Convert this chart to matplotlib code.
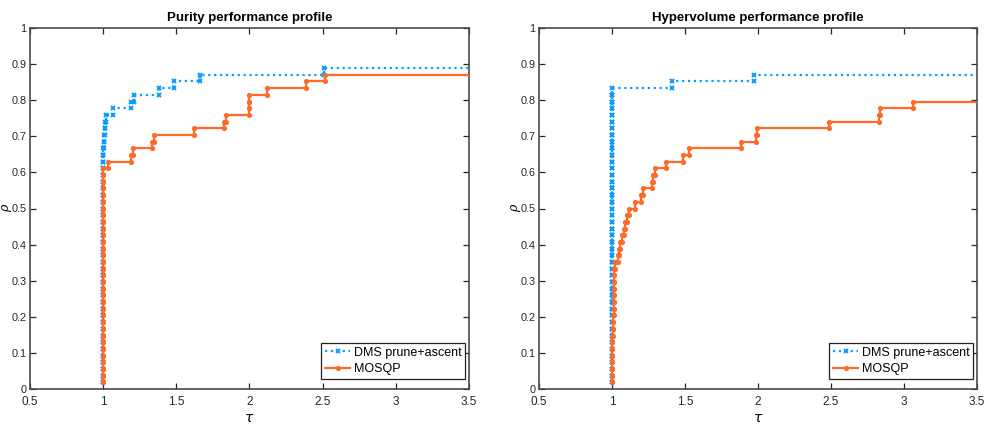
import numpy as np
import matplotlib
matplotlib.use("Agg")
import matplotlib.pyplot as plt

N_PROBLEMS = 54

# ---- Purity profile: tau values where each extra problem is solved (value, count)
pur_dms_tau = [1.0, 1.007, 1.010, 1.015, 1.020, 1.064, 1.190, 1.208, 1.379, 1.486, 1.660, 2.509]
pur_dms_cnt = [36, 2, 1, 1, 1, 1, 1, 1, 1, 1, 1, 1]
pur_mosqp_tau = [1.0, 1.036, 1.188, 1.203, 1.333, 1.349, 1.619, 1.829, 1.842, 1.995, 2.0, 2.121, 2.384, 2.516]
pur_mosqp_cnt = [33, 1, 1, 1, 1, 1, 1, 1, 1, 1, 2, 1, 1, 1]

# ---- Hypervolume profile
hv_dms_tau = [1.0, 1.409, 1.975]
hv_dms_cnt = [45, 1, 1]
hv_mosqp_tau = [1.0, 1.002, 1.007, 1.012, 1.021, 1.038, 1.048, 1.058, 1.068, 1.079, 1.089,
                1.103, 1.116, 1.158, 1.199, 1.212, 1.274, 1.281, 1.295, 1.370, 1.486,
                1.530, 1.884, 1.986, 1.993, 2.488, 2.832, 2.839, 3.059]
hv_mosqp_cnt = [6, 2, 3, 7, 1, 1, 1, 1, 1, 1, 1,
                1, 1, 1, 1, 1, 1, 1, 1, 1, 1,
                1, 1, 1, 1, 1, 1, 1, 1]

titles = ["Purity performance profile", "Hypervolume performance profile"]
labels = ["DMS prune+ascent", "MOSQP"]
x_ticks = [0.5, 1, 1.5, 2, 2.5, 3, 3.5]
x_ticklabels = ["0.5", "1", "1.5", "2", "2.5", "3", "3.5"]
y_ticks = [0, 0.1, 0.2, 0.3, 0.4, 0.5, 0.6, 0.7, 0.8, 0.9, 1]
y_ticklabels = ["0", "0.1", "0.2", "0.3", "0.4", "0.5", "0.6", "0.7", "0.8", "0.9", "1"]

BLUE = "#0a9bff"
ORANGE = "#ff6a26"
FONT = "Liberation Sans"


def stairs(taus, counts, xend=3.7):
    t = np.repeat(np.asarray(taus, float), counts)
    y = np.arange(1, len(t) + 1) / N_PROBLEMS
    xs, ys = [t[0]], [y[0]]
    for i in range(1, len(t)):
        xs += [t[i], t[i]]
        ys += [y[i - 1], y[i]]
    xs.append(xend)
    ys.append(y[-1])
    return np.array(xs), np.array(ys)


fig = plt.figure(figsize=(9.89, 4.32), dpi=100)
axes_pos = [[30 / 989, 43 / 432, 439 / 989, 361 / 432],
            [539 / 989, 43 / 432, 438 / 989, 361 / 432]]
data = [((pur_dms_tau, pur_dms_cnt), (pur_mosqp_tau, pur_mosqp_cnt)),
        ((hv_dms_tau, hv_dms_cnt), (hv_mosqp_tau, hv_mosqp_cnt))]

for k in range(2):
    ax = fig.add_axes(axes_pos[k])
    (dt, dc), (mt, mc) = data[k]
    xs, ys = stairs(dt, dc)
    ax.plot(xs, ys, linestyle=":", color=BLUE, linewidth=1.6, marker="x",
            markersize=3.2, markeredgewidth=1.4, label=labels[0], zorder=3)
    xs, ys = stairs(mt, mc)
    ax.plot(xs, ys, linestyle="-", color=ORANGE, linewidth=1.6, marker="o",
            markersize=2.8, markeredgewidth=0.9, label=labels[1], zorder=4)
    ax.set_xlim(0.5, 3.5)
    ax.set_ylim(0, 1)
    ax.set_xticks(x_ticks)
    ax.set_xticklabels(x_ticklabels, fontfamily=FONT, fontsize=8.5)
    ax.set_yticks(y_ticks)
    ax.set_yticklabels(y_ticklabels, fontfamily=FONT, fontsize=7.8)
    ax.tick_params(direction="in", top=True, right=True, length=4, width=0.9,
                   color="#262626", labelcolor="#262626")
    ax.tick_params(axis="x", pad=5)
    ax.tick_params(axis="y", pad=2.5)
    for s in ax.spines.values():
        s.set_color("#4a4a4a")
        s.set_linewidth(1.2)
    ax.set_title(titles[k], fontfamily=FONT, fontsize=9.5, fontweight="bold", pad=5)
    ax.set_xlabel(r"$\tau$", fontsize=10, labelpad=2)
    ylab = ax.set_ylabel("ρ", fontsize=9, fontstyle="italic", fontfamily="DejaVu Serif")
    ylab.set_verticalalignment("center")
    ax.yaxis.set_label_coords(-0.056, 0.5)
    leg = ax.legend(loc="lower right", bbox_to_anchor=(0.992, 0.028), borderaxespad=0,
                    fancybox=False, framealpha=1, edgecolor="#222222",
                    prop={"family": FONT, "size": 9}, handlelength=2.0,
                    handletextpad=0.3, borderpad=0.3, labelspacing=0.35)
    leg.get_frame().set_linewidth(0.9)

fig.savefig("out.png", dpi=100)
